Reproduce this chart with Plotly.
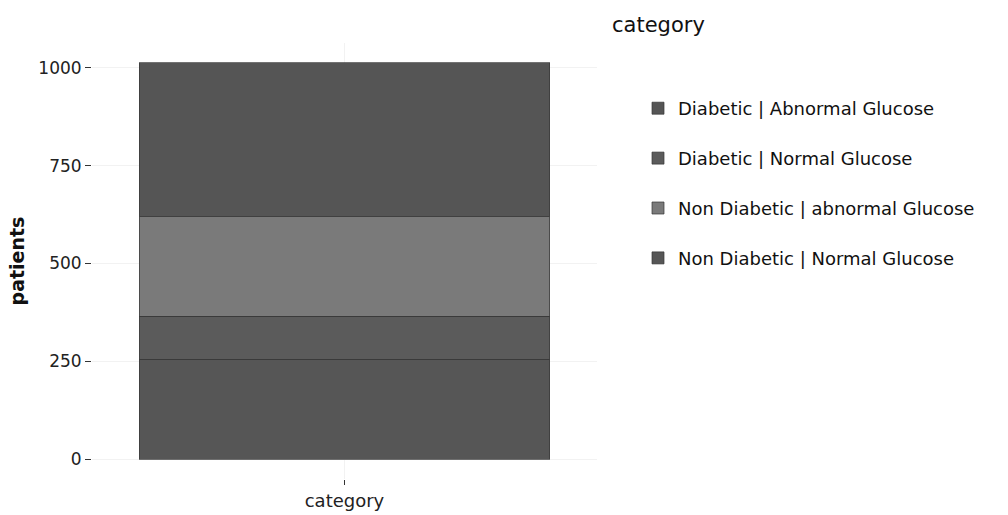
import plotly.graph_objects as go

# Stacked patient counts for the single "category" bar
x_category = ["category"]
series_names = [
    "Diabetic | Abnormal Glucose",
    "Diabetic | Normal Glucose",
    "Non Diabetic | abnormal Glucose",
    "Non Diabetic | Normal Glucose",
]
patients = {
    "Non Diabetic | Normal Glucose": 255,
    "Diabetic | Normal Glucose": 110,
    "Non Diabetic | abnormal Glucose": 255,
    "Diabetic | Abnormal Glucose": 393,
}
# bottom-to-top stacking order
stack_order = [
    "Non Diabetic | Normal Glucose",
    "Diabetic | Normal Glucose",
    "Non Diabetic | abnormal Glucose",
    "Diabetic | Abnormal Glucose",
]
colors = {
    "Diabetic | Abnormal Glucose": "#555555",
    "Diabetic | Normal Glucose": "#5b5b5b",
    "Non Diabetic | abnormal Glucose": "#7a7a7a",
    "Non Diabetic | Normal Glucose": "#565656",
}
y_ticks = [0, 250, 500, 750, 1000]

FONT = "DejaVu Sans, sans-serif"

fig = go.Figure()
for name in stack_order:
    fig.add_trace(go.Bar(
        x=x_category,
        y=[patients[name]],
        name=name,
        width=0.812,
        marker=dict(color=colors[name], line=dict(color="rgba(55,55,55,0.7)", width=1)),
        legendgroup=name,
        legendrank=series_names.index(name) + 1,
    ))

total = sum(patients.values())
pad = total * 0.05

ML, MR, MT, MB = 92, 411, 43, 36
plot_w = 1008 - ML - MR
plot_h = 515 - MT - MB

fig.update_layout(
    barmode="stack",
    width=1008,
    height=515,
    margin=dict(l=ML, r=MR, t=MT, b=MB, autoexpand=False),
    paper_bgcolor="white",
    plot_bgcolor="white",
    font=dict(family=FONT, color="#1a1a1a"),
    showlegend=True,
    legend=dict(
        x=(638 - ML) / plot_w, xanchor="left",
        y=(515 - MB - 90) / plot_h, yanchor="top",
        font=dict(size=18, color="#111111", family=FONT),
        tracegroupgap=23.5,
        traceorder="grouped",
        bgcolor="rgba(0,0,0,0)",
    ),
    xaxis=dict(
        range=[-0.5, 0.5],
        showgrid=True,
        gridcolor="#f2f2f2",
        ticks="outside",
        ticklen=5,
        tickcolor="#333333",
        tickfont=dict(size=18, color="#222222"),
        showline=False,
        zeroline=False,
    ),
    yaxis=dict(
        range=[-pad, total + pad],
        tickvals=y_ticks,
        ticktext=[str(v) for v in y_ticks],
        showgrid=True,
        gridcolor="#f2f2f2",
        ticks="outside",
        ticklen=6,
        tickcolor="#333333",
        tickfont=dict(size=17, color="#222222"),
        zeroline=False,
        title=dict(text="<b>patients</b>", font=dict(size=19, color="#111111"), standoff=8),
    ),
    annotations=[
        dict(
            text="category",
            x=(610 - ML) / plot_w, xref="paper", xanchor="left",
            y=(515 - MB - 25) / plot_h, yref="paper", yanchor="middle",
            showarrow=False,
            font=dict(size=21, color="#111111", family=FONT),
        )
    ],
)

fig.write_html("out.html")
